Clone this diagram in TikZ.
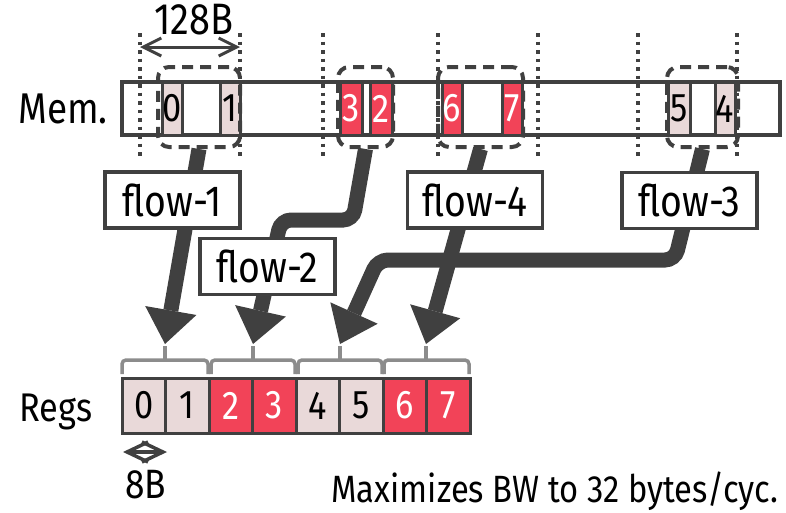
\documentclass[tikz,border=0pt]{standalone}
\usepackage{fontspec}
\setmainfont[FakeStretch=0.86]{Fira Sans}
\usetikzlibrary{arrows.meta}
\definecolor{dk}{HTML}{404040}
\definecolor{pk}{HTML}{E9D9D9}
\definecolor{rd}{HTML}{F24358}
\definecolor{br}{HTML}{8C8C8C}
\begin{document}
\begin{tikzpicture}[x=1pt,y=-1pt,
  big/.style={font=\fontsize{43}{43}\selectfont},
  dig/.style={font=\fontsize{40}{40}\selectfont},
  memcell/.style={draw=dk, line width=3pt, minimum width=20pt, minimum height=53pt, inner sep=0pt, dig},
  pinkc/.style={fill=pk, text=black},
  redc/.style={fill=rd, text=white},
  regcell/.style={draw=dk, line width=3pt, minimum width=43.5pt, minimum height=55pt, inner sep=0pt, dig},
  dbox/.style={draw=dk, line width=4pt, dash pattern=on 11pt off 7pt, rounded corners=11pt, minimum height=80pt, inner sep=0pt},
  dots/.style={draw=dk, line width=3.5pt, dash pattern=on 3.5pt off 5pt},
  flowbox/.style={draw=dk, line width=3.5pt, fill=white, minimum width=135pt, minimum height=56pt, inner sep=0pt, font=\fontsize{43.5}{43.5}\selectfont},
  flowarrow/.style={draw=dk, line width=15pt, rounded corners=10pt, -{Triangle[length=34pt,width=52pt,line width=0pt]}},
  brace/.style={draw=br, line width=3.5pt, rounded corners=4pt},
  span/.style={draw=dk, line width=3pt, {Straight Barb[length=18pt,width=18pt]}-{Straight Barb[length=18pt,width=18pt]}}
]
\useasboundingbox (0,0) rectangle (786,512);

% memory bar
\node[draw=dk, line width=3.5pt, minimum width=658pt, minimum height=53pt, inner sep=0pt] (mem) at (451,108.5) {};
\node[big, anchor=base] (memlabel) at (63,123) {Mem.};

% dotted boundaries
\foreach \x in {140,240,323,438,538,638,737}
  \draw[dots] (\x,33) -- (\x,156);

% 128B span
\coordinate (w0) at (140,47);
\coordinate (w1) at (240,47);
\draw[span] (w0) -- (w1);
\node[font=\fontsize{44}{44}\selectfont, anchor=base] (w) at (194,34) {128B};

% memory cells
\node[memcell, pinkc] (m0) at (172,108.5) {0};
\node[memcell, pinkc] (m1) at (230,108.5) {1};
\node[memcell, redc, minimum width=22pt] (m3) at (351,108.5) {3};
\node[memcell, redc, minimum width=22pt] (m2) at (381,108.5) {2};
\node[memcell, redc] (m6) at (452,108.5) {6};
\node[memcell, redc] (m7) at (512.5,108.5) {7};
\node[memcell, pinkc, minimum width=22pt] (m5) at (679,108.5) {5};
\node[memcell, pinkc] (m4) at (725,108.5) {4};

% dashed groups
\node[dbox, minimum width=82pt] (g1) at (199,107) {};
\node[dbox, minimum width=55pt] (g2) at (365.5,107) {};
\node[dbox, minimum width=85pt] (g4) at (480.5,107) {};
\node[dbox, minimum width=71pt] (g3) at (702.5,107) {};

% register brackets
\foreach \a/\b/\c/\n in {122/208/165/1, 211/295/253/2, 298/382/340/3, 384/469/426/4} {
  \draw[brace] (\a,374) -- (\a,360) -- (\b,360) -- (\b,374);
  \draw[draw=br, line width=3.5pt] (\c,361) -- (\c,346);
  \coordinate (t\n) at (\c,344);
}

% flows
\draw[flowarrow] (g1.south) -- (t1);
\draw[flowarrow] (g2.south) -- (353,220) -- (281,220) -- (t2);
\draw[flowarrow] (g4.south) -- (t4);
\draw[flowarrow] (g3.south) -- (675,260) -- (378,260) -- (t3);

\node[flowbox] (f1) at (172.5,200) {flow-1};
\node[flowbox] (f2) at (267.5,266.5) {flow-2};
\node[flowbox] (f4) at (475,200) {flow-4};
\node[flowbox] (f3) at (689.5,200.5) {flow-3};

% registers
\node[font=\fontsize{40}{40}\selectfont, anchor=base] (reglabel) at (56,421) {Regs};
\foreach \i/\t/\s in {0/0/pinkc,1/1/pinkc,2/2/redc,3/3/redc,4/4/pinkc,5/5/pinkc,6/6/redc,7/7/redc}
  \node[regcell, \s] (r\i) at ({122+43.5*(\i+0.5)},405.5) {\t};

% 8B span
\coordinate (e0) at (123,452);
\coordinate (e1) at (167,452);
\draw[draw=dk, line width=3.5pt, {Straight Barb[length=21pt,width=20pt]}-{Straight Barb[length=21pt,width=20pt]}] (e0) -- (e1);
\node[font=\fontsize{41}{41}\selectfont, anchor=base] (eb) at (146,498) {8B};

\node[font=\fontsize{38}{38}\selectfont, anchor=base west] (note) at (328,502) {Maximizes BW to 32 bytes/cyc.};
\end{tikzpicture}
\end{document}
